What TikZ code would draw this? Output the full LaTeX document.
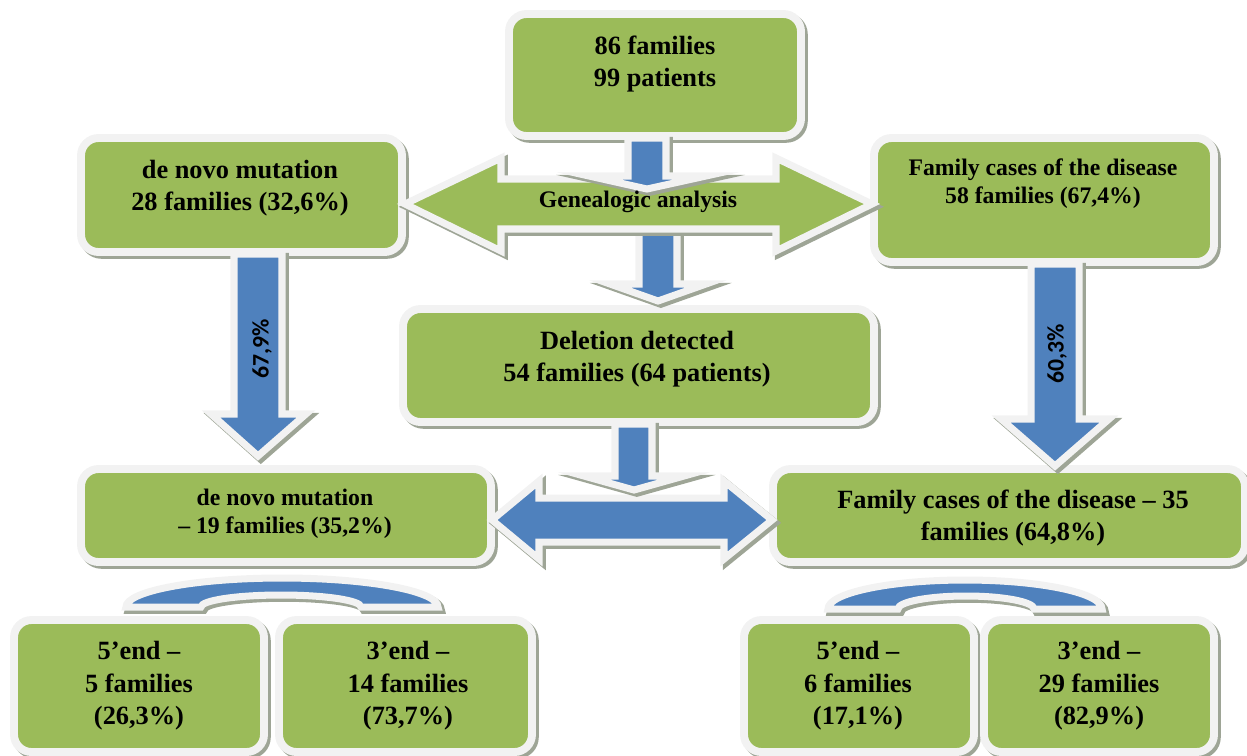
\documentclass[tikz,border=0pt]{standalone}
\usepackage{fontspec}
\setmainfont{Liberation Serif}
\newfontfamily\calfont{Carlito}
\usetikzlibrary{fit}

\definecolor{boxgreen}{RGB}{155,187,89}
\definecolor{arrowblue}{RGB}{79,129,189}
\definecolor{rimgray}{RGB}{242,242,242}
\definecolor{shadowgray}{RGB}{158,165,150}

\tikzset{
  shade3d/.style={preaction={draw=shadowgray, fill=shadowgray, line width=4.5pt,
      transform canvas={shift={(1.6pt,-1.6pt)}}}},
  box/.style={shade3d, draw=rimgray, fill=boxgreen, line width=4.5pt,
      rounded corners=10pt, inner sep=0pt},
  barrow/.style={shade3d, draw=rimgray, fill=arrowblue, line width=4pt, line join=miter},
  garrow/.style={barrow, fill=boxgreen},
  big/.style={font=\bfseries\fontsize{15pt}{18.5pt}\selectfont, align=center},
  small/.style={font=\bfseries\fontsize{13.5pt}{16pt}\selectfont, align=center},
  pct/.style={font=\calfont\bfseries\fontsize{13.5pt}{15pt}\selectfont, rotate=90}
}

\begin{document}
\begin{tikzpicture}[x=0.02cm, y=-0.02cm]
\useasboundingbox (0,0) rectangle (1247,755);

% boxes
\node[box, fit={(509,14) (801,136)}] (start) {};
\node[box, fit={(81,138) (402,252)}] (denovo) {};
\node[box, fit={(874,138) (1214,262)}] (family) {};
\node[box, fit={(403,309) (874,422)}] (deletion) {};
\node[box, fit={(81,469) (491,562)}] (denovodel) {};
\node[box, fit={(773,469) (1245,562)}] (familydel) {};
\foreach \n/\xa/\xb in {endA/14/264, endB/279/532, endC/744/974, endD/984/1214}
  \node[box, fit={(\xa,620) (\xb,752)}] (\n) {};

% genealogic analysis
\draw[barrow] (639,220) -- (639,284) -- (610,284) -- (658,301) -- (706,284) -- (677,284) -- (677,220) -- cycle;
\draw[garrow] (405,204) -- (501,158) -- (501,179) -- (776,179) -- (776,158) -- (872,204)
  -- (776,251) -- (776,229) -- (501,229) -- (501,251) -- cycle;
\draw[barrow] (628,138) -- (628,176) -- (589,176) -- (647,189) -- (706,176) -- (666,176) -- (666,138) -- cycle;

% down arrows with shares
\draw[barrow] (234,254) -- (234,414) -- (211,414) -- (258,456) -- (306,414) -- (282,414) -- (282,254) -- cycle;
\draw[barrow] (1031,264) -- (1031,419) -- (1001,419) -- (1055,466) -- (1109,419) -- (1079,419) -- (1079,264) -- cycle;

% deletion split
\draw[barrow] (492,520) -- (539,481) -- (539,498) -- (724,498) -- (724,481) -- (772,520)
  -- (724,559) -- (724,542) -- (539,542) -- (539,559) -- cycle;
\draw[barrow] (615,424) -- (615,476) -- (584,476) -- (634,490) -- (684,476) -- (652,476) -- (652,424) -- cycle;

% arcs over the end boxes
\draw[barrow] (126,607) arc[start angle=180, end angle=360, x radius=156, y radius=29]
  -- (361,607) arc[start angle=360, end angle=180, x radius=80, y radius=12] -- cycle;
\draw[barrow] (828,609) arc[start angle=180, end angle=360, x radius=137, y radius=29]
  -- (1034,609) arc[start angle=360, end angle=180, x radius=68, y radius=13] -- cycle;

% texts
\node[big] (starttxt) at (655,64) {86 families\\99 patients};
\node[big] (denovotxt) at (240,188) {de novo mutation\\28 families (32,6\%)};
\node[small] (familytxt) at (1043,184) {Family cases of the disease\\58 families (67,4\%)};
\node[small] (genealogy) at (638,202) {Genealogic analysis};
\node[big] (deletiontxt) at (637,359) {Deletion detected\\54 families (64 patients)};
\node[small] (denovodeltxt) at (285,514) {de novo mutation\\-- 19 families (35,2\%)};
\node[big] (familydeltxt) at (1013,518) {Family cases of the disease -- 35\\families (64,8\%)};
\foreach \n/\x/\t in {endA/139/{5’end --\\5 families\\(26,3\%)},
                      endB/408/{3’end --\\14 families\\(73,7\%)},
                      endC/858/{5’end --\\6 families\\(17,1\%)},
                      endD/1099/{3’end --\\29 families\\(82,9\%)}}
  \node[big] (\n txt) at (\x,686) {\t};
\node[pct] (pctdenovo) at (262,349) {67,9\%};
\node[pct] (pctfamily) at (1057,354) {60,3\%};
\end{tikzpicture}
\end{document}
